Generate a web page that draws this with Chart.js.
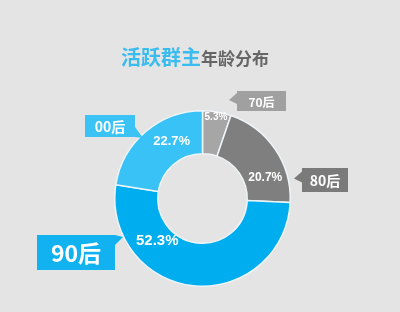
<!DOCTYPE html>
<html>
<head>
<meta charset="utf-8">
<script src="https://cdn.jsdelivr.net/npm/chart.js@4/dist/chart.umd.min.js"></script>
<style>
  html, body { margin: 0; padding: 0; background: #e4e4e4; }
  #wrap { position: relative; width: 400px; height: 312px; }
  #title { position: absolute; left: 0; top: 42px; width: 390px; text-align: center;
    font-family: "Noto Sans CJK SC", sans-serif; font-weight: bold; white-space: nowrap; }
  #title .a { color: #3bbcef; font-size: 20px; }
  #title .b { color: #666666; font-size: 17px; }
</style>
</head>
<body>
<div id="wrap">
  <canvas id="ageChart" width="400" height="312"></canvas>
  <div id="title"><span class="a">活跃群主</span><span class="b">年龄分布</span></div>
</div>
<script>
const categories = ['70后', '80后', '90后', '00后'];
const shares = [5.3, 20.7, 52.3, 22.7];
const sliceColors = ['#a6a6a6', '#7f7f7f', '#00aeef', '#38c2f6'];
const tagColors = ['#a0a0a0', '#7a7a7a', '#12b2f0', '#3cc3f5'];

// where each callout tag sits (box x, y, w, h, pointer style, font size)
const tags = [
  { x: 237, y: 91, w: 49, h: 20, side: 'left', font: 12 },
  { x: 302, y: 168, w: 46, h: 24, side: 'left', font: 14 },
  { x: 37, y: 235, w: 78, h: 35, side: 'topright', font: 23 },
  { x: 85, y: 115, w: 50, h: 22, side: 'bottomright', font: 14 }
];
// label placement inside each slice: fraction of slice angle, distance from centre, size
const pctPos = [
  { f: 0.5, r: 82, size: 10 },
  { f: 0.72, r: 66, size: 12 },
  { f: 0.72, r: 62, size: 15 },
  { f: 0.65, r: 65, size: 13 }
];

const calloutPlugin = {
  id: 'callouts',
  afterDatasetsDraw(chart) {
    const ctx = chart.ctx;
    const meta = chart.getDatasetMeta(0);
    ctx.save();
    // percentage labels
    meta.data.forEach(function (arc, i) {
      const p = pctPos[i];
      const a = arc.startAngle + (arc.endAngle - arc.startAngle) * p.f;
      const x = arc.x + Math.cos(a) * p.r;
      const y = arc.y + Math.sin(a) * p.r;
      ctx.font = 'bold ' + p.size + 'px "Liberation Sans", Arial, sans-serif';
      ctx.fillStyle = '#ffffff';
      ctx.textAlign = 'center';
      ctx.textBaseline = 'middle';
      ctx.fillText(shares[i].toFixed(1) + '%', x, y);
    });
    // tags
    tags.forEach(function (t, i) {
      ctx.fillStyle = tagColors[i];
      ctx.fillRect(t.x, t.y, t.w, t.h);
      ctx.beginPath();
      if (t.side === 'left') {
        const py = t.y + Math.min(t.h * 0.35, 9);
        ctx.moveTo(t.x, py - 5);
        ctx.lineTo(t.x - 8, py + 2);
        ctx.lineTo(t.x, py + 6);
      } else if (t.side === 'bottomright') {
        ctx.moveTo(t.x + t.w, t.y + t.h - 10);
        ctx.lineTo(t.x + t.w + 8, t.y + t.h + 1);
        ctx.lineTo(t.x + t.w, t.y + t.h);
      } else {
        ctx.moveTo(t.x + t.w, t.y);
        ctx.lineTo(t.x + t.w + 8, t.y + 2);
        ctx.lineTo(t.x + t.w, t.y + 10);
      }
      ctx.closePath();
      ctx.fill();
      ctx.font = 'bold ' + t.font + 'px "Noto Sans CJK SC", "Liberation Sans", sans-serif';
      ctx.fillStyle = '#ffffff';
      ctx.textAlign = 'center';
      ctx.textBaseline = 'middle';
      ctx.fillText(categories[i], t.x + t.w / 2, t.y + t.h / 2 + 1);
    });
    ctx.restore();
  }
};

new Chart(document.getElementById('ageChart'), {
  type: 'doughnut',
  data: {
    labels: categories,
    datasets: [{
      data: shares,
      backgroundColor: sliceColors,
      borderColor: '#eef4f8',
      borderWidth: 1.5
    }]
  },
  options: {
    responsive: false,
    animation: false,
    cutout: '51%',
    layout: { padding: { top: 110, bottom: 25, left: 114, right: 109 } },
    plugins: {
      legend: { display: false },
      tooltip: { enabled: false },
      title: { display: false }
    }
  },
  plugins: [calloutPlugin]
});
</script>
</body>
</html>
